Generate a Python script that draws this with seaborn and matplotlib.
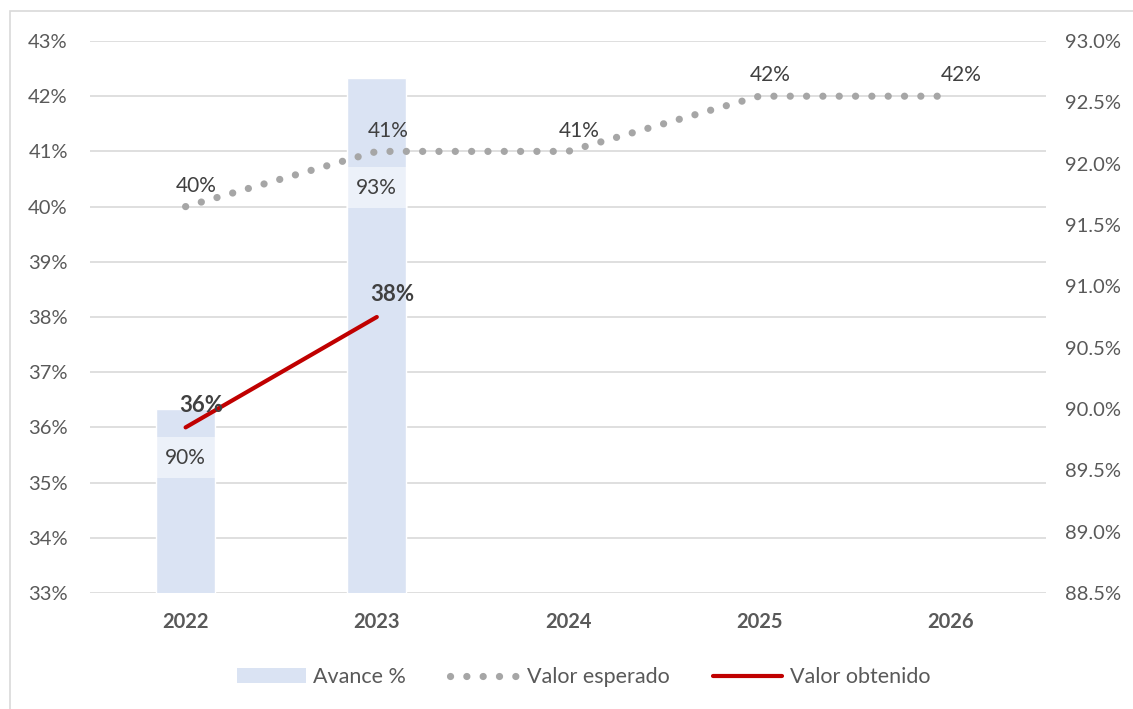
import matplotlib
matplotlib.use("Agg")
import matplotlib.pyplot as plt
import seaborn as sns
import pandas as pd
import numpy as np
from matplotlib.patches import Patch, Rectangle
from matplotlib.lines import Line2D
from matplotlib.ticker import FuncFormatter

# data
years = ["2022", "2023", "2024", "2025", "2026"]
avance = [90.0, 92.7, np.nan, np.nan, np.nan]          # right axis, bars
esperado = [40, 41, 41, 42, 42]                        # left axis, dotted
obtenido = [36, 38, np.nan, np.nan, np.nan]            # left axis, red

left_ticks = np.arange(33, 44, 1)
right_ticks = np.arange(88.5, 93.01, 0.5)

TXT = "#595959"
BAR = "#DAE3F3"
DOT = "#A6A6A6"
RED = "#C00000"

sns.set_style("white")
plt.rcParams["font.family"] = ["Lato", "DejaVu Sans"]

df = pd.DataFrame({"year": years, "pos": np.arange(len(years)),
                   "avance": avance, "esperado": esperado, "obtenido": obtenido})

W, H = 1133, 709
fig = plt.figure(figsize=(W / 100, H / 100), dpi=100)
ax = fig.add_axes([90 / W, 1 - 593 / H, (1046 - 90) / W, (593 - 41) / H])
axb = ax.twinx()
axl = ax.twinx()

# bars on the secondary (right) scale
sns.barplot(data=df.dropna(subset=["avance"]), x="year", y="avance", order=years,
            color=BAR, width=0.31, saturation=1, ax=axb)
for i, v in enumerate(avance):
    if np.isnan(v):
        continue
    off = -35 if i == 0 else -79
    axb.annotate(f"{v:.0f}%", xy=(i, v), xytext=(0, off), textcoords="offset points",
                 ha="center", va="center", fontsize=15, color="#404040",
                 bbox=dict(boxstyle="square,pad=0.5", fc="white", ec="none", alpha=0.5))

# lines on the primary (left) scale
sns.lineplot(data=df, x="pos", y="esperado", color=DOT, linewidth=5.2,
             linestyle=(0, (0.01, 2.25)), dash_capstyle="round", ax=axl)
sns.lineplot(data=df.dropna(subset=["obtenido"]), x="pos", y="obtenido", color=RED,
             linewidth=3, solid_capstyle="round", ax=axl)

for i, v in enumerate(esperado):
    axl.annotate(f"{v:.0f}%", xy=(i, v), xytext=(8, 15), textcoords="offset points",
                 ha="center", va="center", fontsize=15, color="#404040")
for i, v in enumerate(obtenido):
    if np.isnan(v):
        continue
    axl.annotate(f"{v:.0f}%", xy=(i, v), xytext=(11, 16), textcoords="offset points",
                 ha="center", va="center", fontsize=16, fontweight="bold", color="#404040")

# scales
for a in (ax, axl):
    a.set_ylim(33, 43)
axb.set_ylim(88.5, 93.0)
for a in (ax, axb, axl):
    a.set_xlim(-0.5, len(years) - 0.5)
    for s in a.spines.values():
        s.set_visible(False)
    a.set_xlabel("")
    a.set_ylabel("")

ax.set_yticks(left_ticks)
ax.yaxis.set_major_formatter(FuncFormatter(lambda v, p: f"{v:.0f}%"))
ax.grid(axis="y", color="#D9D9D9", linewidth=1.2)
ax.tick_params(axis="y", length=0, pad=16, labelsize=14.5, labelcolor=TXT)
ax.set_xticks(range(len(years)))
ax.set_xticklabels(years, fontweight="bold")
ax.tick_params(axis="x", length=0, pad=14, labelsize=14.5, labelcolor=TXT)

axb.set_yticks(right_ticks)
axb.yaxis.set_major_formatter(FuncFormatter(lambda v, p: f"{v:.1f}%"))
axb.tick_params(axis="y", length=0, pad=14, labelsize=14.5, labelcolor=TXT)
axb.tick_params(axis="x", bottom=False, labelbottom=False)

axl.set_yticks([])
axl.tick_params(axis="x", bottom=False, labelbottom=False)

# legend
handles = [Patch(facecolor=BAR, edgecolor="none"),
           Line2D([], [], color=DOT, linewidth=5.2, linestyle=(0, (0.01, 2.25)), dash_capstyle="round"),
           Line2D([], [], color=RED, linewidth=3, solid_capstyle="round")]
labels = ["Avance %", "Valor esperado", "Valor obtenido"]
leg = fig.legend(handles, labels, loc="center", bbox_to_anchor=(0.515, 1 - 677 / H),
                 ncol=3, frameon=False, fontsize=15.5, handlelength=3.2, handleheight=0.65,
                 handletextpad=0.35, columnspacing=2.05)
for t in leg.get_texts():
    t.set_color(TXT)

# chart area border (only top and left edges fall inside the image)
fig.add_artist(Rectangle((9.5 / W, -0.2), 1.2, 1.2 - 11 / H, transform=fig.transFigure,
                         fill=False, edgecolor="#D9D9D9", linewidth=1.2))

fig.savefig("out.png", dpi=100)
